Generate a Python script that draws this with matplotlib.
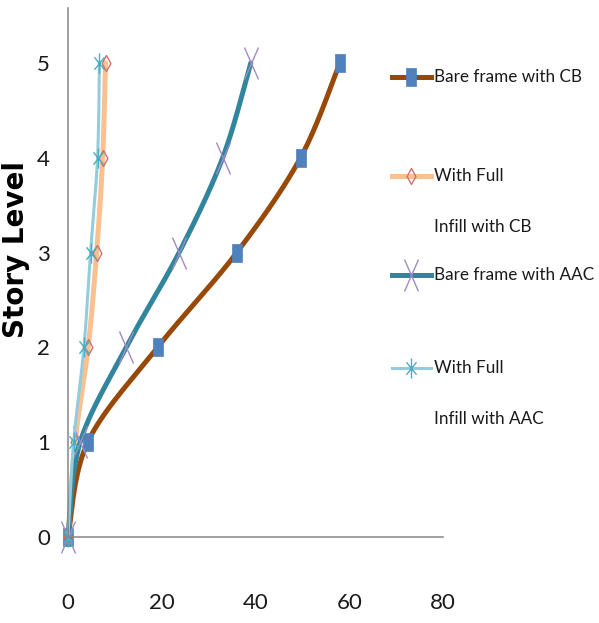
import numpy as np
import matplotlib.pyplot as plt
from matplotlib.lines import Line2D
from matplotlib.path import Path

# story drift data (x) per story level (y)
levels = [0, 1, 2, 3, 4, 5]
bare_cb = [0, 4.2, 19.1, 36.0, 49.6, 58.0]
infill_cb = [0, 1.5, 4.3, 6.1, 7.4, 8.0]
bare_aac = [0, 2.6, 12.4, 23.7, 33.0, 39.0]
infill_aac = [0, 1.2, 3.4, 4.8, 6.3, 6.7]

names = [["Bare frame with CB"], ["With Full", "Infill with CB"],
         ["Bare frame with AAC"], ["With Full", "Infill with AAC"]]

W, H = 599, 623
X_MAX, Y_MAX = 80, 5.58
AX_LEFT, AX_RIGHT, AX_TOP, AX_BOTTOM = 68, 443, 8, 537

TEXT_FONT = ["Lato", "DejaVu Sans"]
TEXT_COLOR = "#1a1a1a"

# tall markers (the chart is drawn with squeezed markers)
rect_marker = [(-0.5, -1), (0.5, -1), (0.5, 1), (-0.5, 1), (-0.5, -1)]
diamond_marker = [(0, 1), (0.55, 0), (0, -1), (-0.55, 0), (0, 1)]
cross_marker = Path([(-0.44, -1), (0.44, 1), (-0.44, 1), (0.44, -1)],
                    [Path.MOVETO, Path.LINETO, Path.MOVETO, Path.LINETO])
star_marker = Path([(0, -1), (0, 1), (-0.5, -0.62), (0.5, 0.62),
                    (-0.5, 0.62), (0.5, -0.62)],
                   [Path.MOVETO, Path.LINETO] * 3)

styles = [
    dict(color="#984807", lw=3.6, marker=rect_marker, ms=13,
         mfc="#4F81BD", mec="#4F81BD", mew=0.5),
    dict(color="#FAC090", lw=3.6, marker=diamond_marker, ms=11.5,
         mfc="none", mec="#D0706C", mew=1.0),
    dict(color="#31859C", lw=3.6, marker=cross_marker, ms=23,
         mfc="none", mec="#9F8CC4", mew=1.0),
    dict(color="#93CDDD", lw=2.2, marker=star_marker, ms=14.5,
         mfc="none", mec="#4BACC6", mew=1.0),
]


def smooth(x, y, sx, sy, n=40):
    """Excel-like smoothed line: cubic Bezier through the points."""
    p = np.column_stack([np.asarray(x, float) * sx, np.asarray(y, float) * sy])
    ext = np.vstack([p[0], p, p[-1]])
    t = np.linspace(0, 1, n)[1:, None]
    out = [p[:1]]
    for i in range(len(p) - 1):
        p0, p1, p2, p3 = ext[i], ext[i + 1], ext[i + 2], ext[i + 3]
        c1 = p1 + (p2 - p0) / 6
        c2 = p2 - (p3 - p1) / 6
        seg = ((1 - t) ** 3) * p1 + 3 * ((1 - t) ** 2) * t * c1 \
            + 3 * (1 - t) * t ** 2 * c2 + t ** 3 * p2
        out.append(seg)
    out = np.vstack(out)
    return out[:, 0] / sx, out[:, 1] / sy


fig = plt.figure(figsize=(W / 100, H / 100), dpi=100)
ax = fig.add_axes([AX_LEFT / W, 1 - AX_BOTTOM / H,
                   (AX_RIGHT - AX_LEFT) / W, (AX_BOTTOM - AX_TOP) / H])

sx = (AX_RIGHT - AX_LEFT) / X_MAX
sy = (AX_BOTTOM - AX_TOP) / Y_MAX

for xs, st in zip([bare_cb, infill_cb, bare_aac, infill_aac], styles):
    cx, cy = smooth(xs, levels, sx, sy)
    ax.plot(cx, cy, color=st["color"], lw=st["lw"], solid_capstyle="round",
            clip_on=False)
    ax.plot(xs, levels, ls="none", marker=st["marker"], ms=st["ms"],
            mfc=st["mfc"], mec=st["mec"], mew=st["mew"], clip_on=False)

ax.set_xlim(0, X_MAX)
ax.set_ylim(0, Y_MAX)
ax.set_xticks([0, 20, 40, 60, 80])
ax.set_yticks(levels)
ax.tick_params(length=0, labelsize=16, colors=TEXT_COLOR)
ax.tick_params(axis="x", pad=40)
ax.tick_params(axis="y", pad=13)
for lab in ax.get_xticklabels() + ax.get_yticklabels():
    lab.set_family(TEXT_FONT)

for side in ["top", "right"]:
    ax.spines[side].set_visible(False)
for side in ["left", "bottom"]:
    ax.spines[side].set_color("#868686")
    ax.spines[side].set_linewidth(1.1)

fig.text(16 / W, 1 - 250 / H, "Story Level", rotation=90, ha="center",
         va="center", fontsize=20, fontweight="bold", family="DejaVu Sans")

# legend on the right, handle aligned with the first text line
legend_rows = [77, 176, 275, 368]
line_gap = 51
for name, st, yp in zip(names, styles, legend_rows):
    yf = 1 - yp / H
    fig.add_artist(Line2D([392 / W, 431 / W], [yf, yf], color=st["color"],
                          lw=st["lw"], transform=fig.transFigure))
    fig.add_artist(Line2D([411 / W], [yf], ls="none", marker=st["marker"],
                          ms=st["ms"], mfc=st["mfc"], mec=st["mec"],
                          mew=st["mew"], transform=fig.transFigure))
    for k, line in enumerate(name):
        fig.text(434 / W, 1 - (yp + k * line_gap) / H, line, ha="left",
                 va="center", fontsize=12.3, family=TEXT_FONT,
                 color=TEXT_COLOR)

plt.savefig("out.png", dpi=100)
